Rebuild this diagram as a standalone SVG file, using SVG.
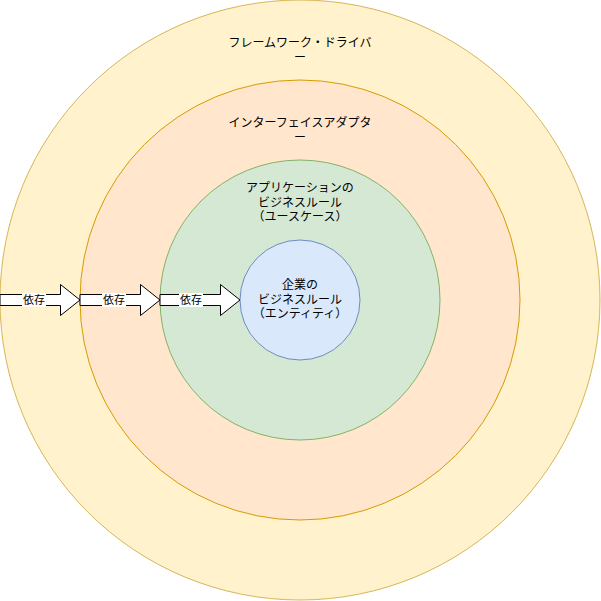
<svg xmlns="http://www.w3.org/2000/svg" width="601" height="601" viewBox="0 0 601 601">
<style>
text{font-family:"Liberation Sans","Noto Sans CJK JP",sans-serif;font-size:12px;fill:#000;text-anchor:middle}
.arrow{fill:#fff;stroke:#000;stroke-width:1}
.lbl{fill:#fff}
.lt{font-size:11px}
</style>
<rect width="601" height="601" fill="#fff"/>
<g id="framework">
<circle cx="300" cy="300" r="300" fill="#fff2cc" stroke="#d6b656"/>
<text x="300" y="47">フレームワーク・ドライバ</text>
<text x="300" y="62">ー</text>
</g>
<g id="adapter">
<circle cx="300" cy="300" r="220" fill="#ffe6cc" stroke="#d79b00"/>
<text x="300" y="127">インターフェイスアダプタ</text>
<text x="300" y="142">ー</text>
</g>
<g id="usecase">
<circle cx="300" cy="300" r="140" fill="#d5e8d4" stroke="#82b366"/>
<text x="300" y="192">アプリケーションの</text>
<text x="300" y="207">ビジネスルール</text>
<text x="300" y="221">（ユースケース）</text>
</g>
<g id="entity">
<circle cx="300" cy="300" r="60" fill="#dae8fc" stroke="#6c8ebf"/>
<text x="300" y="289">企業の</text>
<text x="300" y="304">ビジネスルール</text>
<text x="300" y="318">（エンティティ）</text>
</g>
<g id="connectors">
<path class="arrow" d="M0,294.5 H60.5 V284.5 L80,300 L60.5,315.5 V305.5 H0 Z"/>
<rect class="lbl" x="22" y="293" width="24" height="14"/>
<text class="lt" x="34" y="304">依存</text>
<path class="arrow" d="M80,294.5 H140.5 V284.5 L160,300 L140.5,315.5 V305.5 H80 Z"/>
<rect class="lbl" x="102" y="293" width="24" height="14"/>
<text class="lt" x="114" y="304">依存</text>
<path class="arrow" d="M160,294.5 H220.5 V284.5 L240,300 L220.5,315.5 V305.5 H160 Z"/>
<rect class="lbl" x="179" y="293" width="24" height="14"/>
<text class="lt" x="191" y="304">依存</text>
</g>
</svg>
